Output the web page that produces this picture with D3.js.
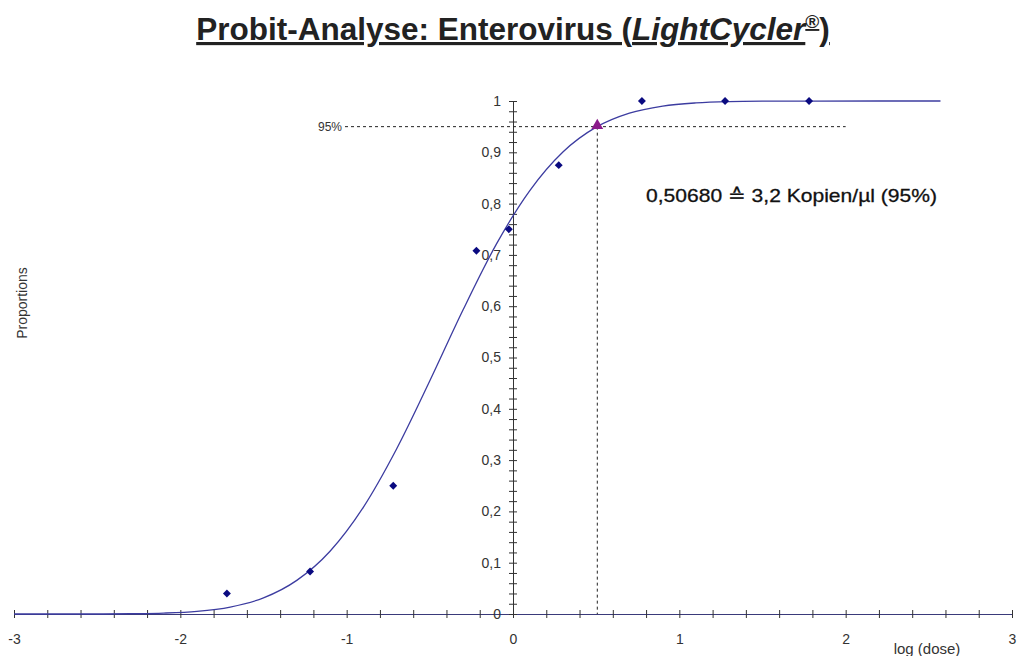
<!DOCTYPE html>
<html><head><meta charset="utf-8">
<script src="https://cdn.jsdelivr.net/npm/d3@7"></script>
<style>body{margin:0;background:#fff}svg{display:block}</style>
</head><body>
<svg id="c" width="1017" height="656"></svg>
<script>
// Observed proportions (positives / 24 replicates) at log(dose)
const logDose = [-1.72, -1.22, -0.72, -0.22, -0.025, 0.275, 0.775, 1.275, 1.78];
const proportions = [0.04, 0.083, 0.25, 0.708, 0.75, 0.875, 1, 1, 1];
// Fitted probit curve
const curveX = [-3, -2.5, -2.3, -2.1, -1.9, -1.7, -1.5, -1.3, -1.1, -0.9, -0.7, -0.5, -0.3, -0.1, 0.1, 0.3, 0.5, 0.7, 0.9, 1.1, 1.3, 1.5, 1.8, 2.2, 2.57];
const curveY = [0, 0, 0.0006, 0.0018, 0.0052, 0.0136, 0.0314, 0.0655, 0.1224, 0.208, 0.3217, 0.4546, 0.593, 0.721, 0.825, 0.9006, 0.949, 0.9764, 0.9902, 0.9963, 0.9988, 0.9996, 0.9999, 1, 1];
// 95% detection limit
const lodX = 0.5068, lodY = 0.95;
const annotation = "0,50680 \u2259 3,2 Kopien/\u00b5l (95%)";
const xMajor = [-3, -2, -1, 0, 1, 2, 3];
const yMajor = [0, 0.1, 0.2, 0.3, 0.4, 0.5, 0.6, 0.7, 0.8, 0.9, 1];

const svg = d3.select("#c");
const x = d3.scaleLinear().domain([-3, 3]).range([14, 1012]);
const y = d3.scaleLinear().domain([0, 1]).range([614, 101]);
const font = "Liberation Sans, Arial, sans-serif";
const txt = "#333";

// Title
const title = svg.append("text").attr("x", 513).attr("y", 40).attr("text-anchor", "middle")
  .attr("font-family", font).attr("font-weight", "bold").attr("font-size", 31.5).attr("fill", "#222")
  .attr("text-decoration", "underline");
title.append("tspan").text("Probit-Analyse: Enterovirus (");
title.append("tspan").attr("font-style", "italic").text("LightCycler");
title.append("tspan").attr("dy", -12).attr("font-size", 19).text("\u00ae");
title.append("tspan").attr("dy", 12).text(")");

// Axes (ticks crossing)
const xTicks = d3.range(-15, 16).map(d => d / 5);
const xAxis = d3.axisBottom(x).tickValues(xTicks).tickSize(4)
  .tickFormat(d => Math.abs(d - Math.round(d)) < 1e-9 && xMajor.includes(Math.round(d)) ? String(Math.round(d)) : "");
const gx = svg.append("g").attr("transform", `translate(0,${y(0)})`).call(xAxis);
gx.select(".domain").attr("stroke", "#3a3a7a");
gx.selectAll(".tick line").attr("y1", -4).attr("stroke", "#333");
gx.selectAll(".tick text").attr("y", 20).attr("font-family", font).attr("font-size", 14).attr("fill", txt);

const yTicks = d3.range(0, 51).map(d => d / 50);
const yAxis = d3.axisLeft(y).tickValues(yTicks).tickSize(4).tickFormat(d => {
  const r = Math.round(d * 10) / 10;
  if (Math.abs(d - r) > 1e-9 || !yMajor.includes(r)) return "";
  return r === 0 ? "0" : r === 1 ? "1" : d3.format(".1f")(r).replace(".", ",");
});
const gy = svg.append("g").attr("transform", `translate(${x(0)},0)`).call(yAxis);
gy.select(".domain").attr("stroke", "#333");
gy.selectAll(".tick line").attr("x1", 4).attr("stroke", "#333");
gy.selectAll(".tick text").attr("x", -12).attr("font-family", font).attr("font-size", 14).attr("fill", txt);

// Axis titles
svg.append("text").attr("transform", "translate(27,303) rotate(-90)").attr("text-anchor", "middle")
  .attr("font-family", font).attr("font-size", 14).attr("fill", txt).text("Proportions");
svg.append("text").attr("x", 927).attr("y", 654).attr("text-anchor", "middle")
  .attr("font-family", font).attr("font-size", 15).attr("fill", txt).text("log (dose)");

// Dashed reference lines
svg.append("line").attr("x1", 345).attr("x2", x(2)).attr("y1", y(lodY)).attr("y2", y(lodY))
  .attr("stroke", "#222").attr("stroke-dasharray", "3,3");
svg.append("line").attr("x1", x(lodX)).attr("x2", x(lodX)).attr("y1", y(lodY)).attr("y2", y(0))
  .attr("stroke", "#222").attr("stroke-dasharray", "3,3");
svg.append("text").attr("x", 342).attr("y", y(lodY) + 4).attr("text-anchor", "end")
  .attr("font-family", font).attr("font-size", 12).attr("fill", txt).text("95%");

// Curve
const line = d3.line().x(d => x(d[0])).y(d => y(d[1])).curve(d3.curveMonotoneX);
svg.append("path").datum(curveX.map((v, i) => [v, curveY[i]])).attr("d", line)
  .attr("fill", "none").attr("stroke", "#3c3ca0").attr("stroke-width", 1.3);

// Points
svg.selectAll(".pt").data(logDose.map((v, i) => [v, proportions[i]])).enter().append("path")
  .attr("d", d3.symbol().type(d3.symbolDiamond2).size(40))
  .attr("transform", d => `translate(${x(d[0])},${y(d[1])})`).attr("fill", "#0a0a80");

// LOD triangle
svg.append("path").attr("d", d3.symbol().type(d3.symbolTriangle).size(60))
  .attr("transform", `translate(${x(lodX)},${y(lodY) - 1})`).attr("fill", "#8a1a8a");

// Annotation
svg.append("text").attr("x", 646).attr("y", 202).attr("font-family", font).attr("font-size", 19)
  .attr("textLength", 291).attr("lengthAdjust", "spacingAndGlyphs")
  .attr("fill", "#111").attr("stroke", "#111").attr("stroke-width", 0.3).text(annotation);
</script>
</body></html>
